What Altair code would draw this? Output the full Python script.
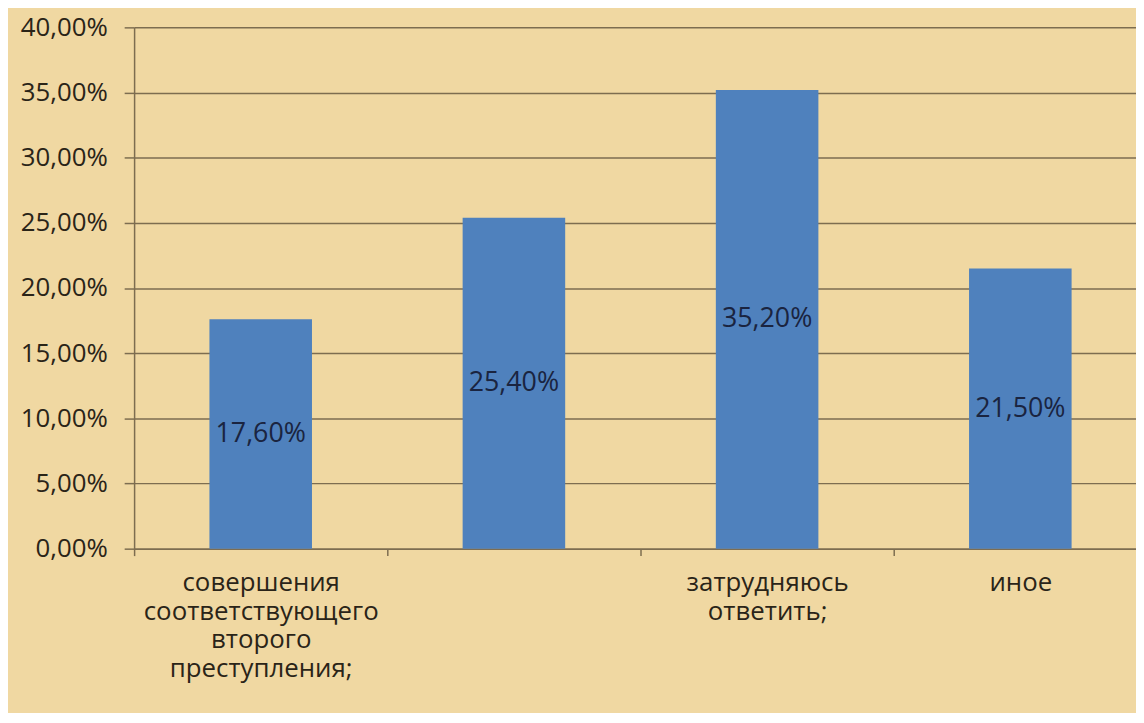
import altair as alt
import pandas as pd

categories = [
    "совершения\nсоответствующего\nвторого\nпреступления;",
    " ",
    "затрудняюсь\nответить;",
    "иное",
]
values = [0.176, 0.254, 0.352, 0.215]
y_ticks = [0.0, 0.05, 0.10, 0.15, 0.20, 0.25, 0.30, 0.35, 0.40]

df = pd.DataFrame({"category": categories, "value": values})

FONT = "Open Sans"
BG = "#f0d8a2"
GRID = "#7d6d50"
TXT = "#2a2418"

x_enc = alt.X(
    "category:N",
    sort=None,
    scale=alt.Scale(range=[0, 1020], paddingInner=0, paddingOuter=0),
    axis=alt.Axis(
        title=None,
        labelAngle=0,
        labelExpr="split(datum.label, '\\n')",
        labelLineHeight=29,
        labelFontSize=26,
        labelFont=FONT,
        labelColor=TXT,
        labelLimit=400,
        labelPadding=14,
        tickBand="extent",
        tickSize=7,
        tickColor=GRID,
        tickWidth=1.5,
        domainColor=GRID,
        domainWidth=1.5,
        labelBaseline="top",
    ),
)

bars = alt.Chart(df).mark_bar(
    color="#4f81bd", width=alt.RelativeBandSize(0.405)
).encode(
    x=x_enc,
    y=alt.Y(
        "value:Q",
        scale=alt.Scale(domain=[0, 0.4], nice=False),
        axis=alt.Axis(
            title=None,
            values=y_ticks,
            labelExpr="replace(format(datum.value, '.2%'), '.', ',')",
            labelFontSize=26,
            labelFont=FONT,
            labelColor=TXT,
            labelPadding=17,
            tickSize=10,
            tickColor=GRID,
            tickWidth=1.5,
            domainColor=GRID,
            domainWidth=1.5,
            gridColor=GRID,
            gridWidth=1.5,
            grid=True,
        ),
    ),
)

labels = (
    alt.Chart(df)
    .transform_calculate(
        mid="datum.value / 2",
        txt="replace(format(datum.value, '.2%'), '.', ',')",
    )
    .mark_text(font=FONT, fontSize=27, color="#1a2440", baseline="middle")
    .encode(
        x=alt.X("category:N", sort=None),
        y=alt.Y("mid:Q"),
        text="txt:N",
    )
)

chart = (
    alt.layer(bars, labels)
    .properties(
        width=1009,
        height=525,
        autosize=alt.AutoSizeParams(type="none"),
        padding={"left": 127, "top": 17, "right": 0, "bottom": 163},
        background=BG,
    )
    .configure_view(stroke=None, fill=BG)
)

chart.save("out.html", embed_options={"renderer": "svg", "actions": False})
